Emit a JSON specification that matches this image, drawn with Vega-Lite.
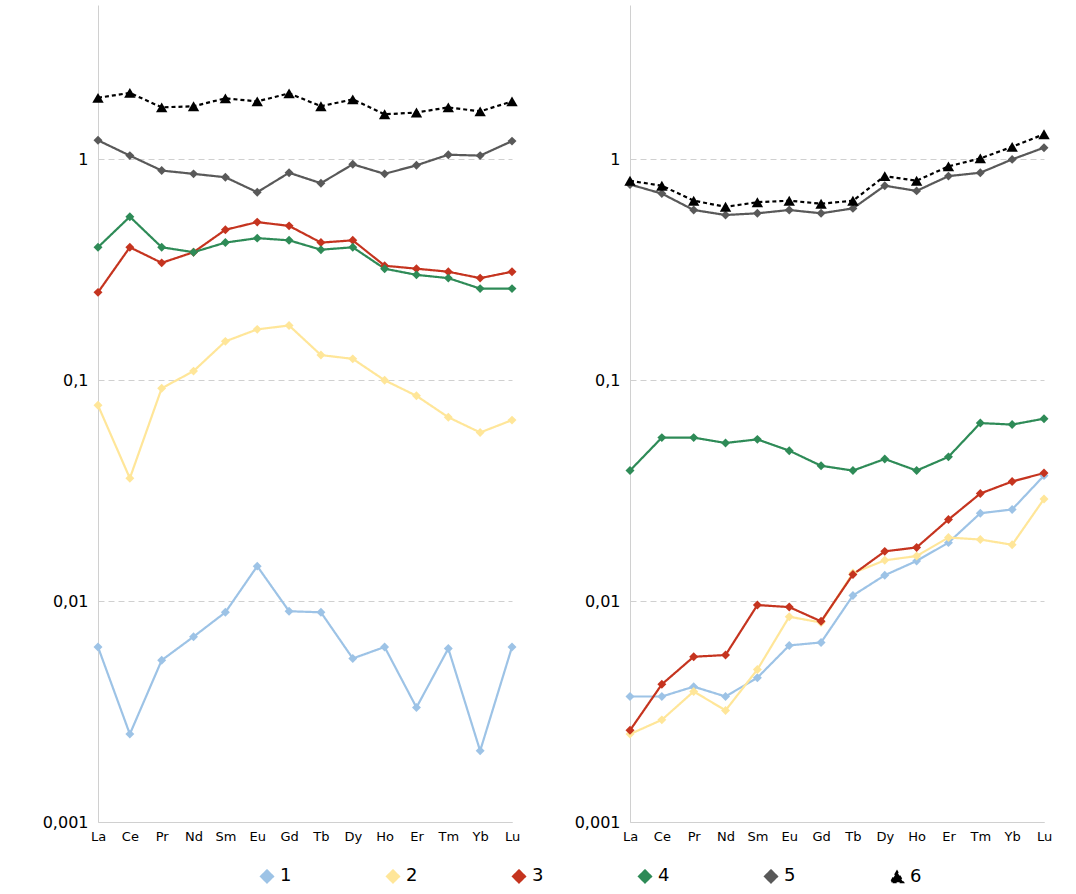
{
  "$schema": "https://vega.github.io/schema/vega-lite/v6.json",
  "padding": {"left": 42, "top": 5, "right": 5, "bottom": 5},
  "config": {
    "font": "DejaVu Sans",
    "view": {"stroke": null},
    "axis": {"labelFont": "DejaVu Sans", "labelColor": "#000", "domainColor": "#d0d0d0", "tickColor": "#d0d0d0"}
  },
  "data": {
    "values": [
      {"p": "A", "el": "La", "1": 0.0062, "2": 0.077, "3": 0.25, "4": 0.40, "5": 1.22, "6": 1.9},
      {"p": "A", "el": "Ce", "1": 0.0025, "2": 0.036, "3": 0.40, "4": 0.55, "5": 1.04, "6": 2.0},
      {"p": "A", "el": "Pr", "1": 0.0054, "2": 0.092, "3": 0.34, "4": 0.40, "5": 0.89, "6": 1.72},
      {"p": "A", "el": "Nd", "1": 0.0069, "2": 0.11, "3": 0.38, "4": 0.38, "5": 0.86, "6": 1.74},
      {"p": "A", "el": "Sm", "1": 0.0089, "2": 0.15, "3": 0.48, "4": 0.42, "5": 0.83, "6": 1.89},
      {"p": "A", "el": "Eu", "1": 0.0144, "2": 0.17, "3": 0.52, "4": 0.44, "5": 0.71, "6": 1.83},
      {"p": "A", "el": "Gd", "1": 0.0090, "2": 0.177, "3": 0.50, "4": 0.43, "5": 0.87, "6": 1.99},
      {"p": "A", "el": "Tb", "1": 0.0089, "2": 0.13, "3": 0.42, "4": 0.39, "5": 0.78, "6": 1.74},
      {"p": "A", "el": "Dy", "1": 0.0055, "2": 0.125, "3": 0.43, "4": 0.40, "5": 0.95, "6": 1.87},
      {"p": "A", "el": "Ho", "1": 0.0062, "2": 0.10, "3": 0.33, "4": 0.32, "5": 0.86, "6": 1.6},
      {"p": "A", "el": "Er", "1": 0.0033, "2": 0.085, "3": 0.32, "4": 0.30, "5": 0.94, "6": 1.63},
      {"p": "A", "el": "Tm", "1": 0.0061, "2": 0.068, "3": 0.31, "4": 0.29, "5": 1.05, "6": 1.72},
      {"p": "A", "el": "Yb", "1": 0.0021, "2": 0.058, "3": 0.29, "4": 0.26, "5": 1.04, "6": 1.65},
      {"p": "A", "el": "Lu", "1": 0.0062, "2": 0.066, "3": 0.31, "4": 0.26, "5": 1.21, "6": 1.83},
      {"p": "B", "el": "La", "1": 0.0037, "2": 0.0025, "3": 0.0026, "4": 0.039, "5": 0.77, "6": 0.80},
      {"p": "B", "el": "Ce", "1": 0.0037, "2": 0.0029, "3": 0.0042, "4": 0.055, "5": 0.70, "6": 0.76},
      {"p": "B", "el": "Pr", "1": 0.0041, "2": 0.0039, "3": 0.0056, "4": 0.055, "5": 0.59, "6": 0.65},
      {"p": "B", "el": "Nd", "1": 0.0037, "2": 0.0032, "3": 0.0057, "4": 0.052, "5": 0.56, "6": 0.61},
      {"p": "B", "el": "Sm", "1": 0.0045, "2": 0.0049, "3": 0.0096, "4": 0.054, "5": 0.57, "6": 0.64},
      {"p": "B", "el": "Eu", "1": 0.0063, "2": 0.0085, "3": 0.0094, "4": 0.048, "5": 0.59, "6": 0.65},
      {"p": "B", "el": "Gd", "1": 0.0065, "2": 0.0080, "3": 0.0081, "4": 0.041, "5": 0.57, "6": 0.63},
      {"p": "B", "el": "Tb", "1": 0.0106, "2": 0.0134, "3": 0.0132, "4": 0.039, "5": 0.60, "6": 0.65},
      {"p": "B", "el": "Dy", "1": 0.0131, "2": 0.0153, "3": 0.0168, "4": 0.044, "5": 0.76, "6": 0.84},
      {"p": "B", "el": "Ho", "1": 0.0152, "2": 0.0160, "3": 0.0175, "4": 0.039, "5": 0.72, "6": 0.80},
      {"p": "B", "el": "Er", "1": 0.0184, "2": 0.0194, "3": 0.0234, "4": 0.045, "5": 0.84, "6": 0.93},
      {"p": "B", "el": "Tm", "1": 0.025, "2": 0.019, "3": 0.0307, "4": 0.064, "5": 0.87, "6": 1.01},
      {"p": "B", "el": "Yb", "1": 0.026, "2": 0.018, "3": 0.0348, "4": 0.063, "5": 1.0, "6": 1.14},
      {"p": "B", "el": "Lu", "1": 0.037, "2": 0.029, "3": 0.038, "4": 0.067, "5": 1.13, "6": 1.3}
    ]
  },
  "transform": [
    {"fold": ["1", "2", "3", "4", "5", "6"], "as": ["s", "v"]}
  ],
  "facet": {"column": {"field": "p", "type": "nominal", "header": {"title": null, "labels": false}}},
  "spacing": 54,
  "resolve": {"axis": {"y": "independent", "x": "independent"}},
  "spec": {
    "width": 414,
    "height": 817,
    "encoding": {
      "x": {"field": "el", "type": "ordinal", "sort": null, "title": null,
        "scale": {"type": "point", "padding": 0},
        "axis": {"labelAngle": 0, "labelFontSize": 13, "ticks": false, "grid": false, "labelPadding": 8}},
      "y": {"field": "v", "type": "quantitative", "title": null,
        "scale": {"type": "log", "domain": [0.001, 5], "nice": false},
        "axis": {"values": [0.001, 0.01, 0.1, 1], "labelFontSize": 16, "ticks": false, "labelPadding": 10,
          "gridDash": [6, 4], "gridColor": "#d0d0d0",
          "labelExpr": "replace(format(datum.value, '~g'), '.', ',')"}},
      "color": {"field": "s", "type": "nominal", "title": null,
        "scale": {"domain": ["1", "2", "3", "4", "5", "6"],
          "range": ["#9DC3E6", "#FFE699", "#C5341F", "#2E8B57", "#595959", "#000000"]},
        "legend": {"orient": "none", "legendX": 160, "legendY": 862, "direction": "horizontal", "labelFontSize": 18, "symbolSize": 150, "columnPadding": 90, "symbolStrokeWidth": 2}}
    },
    "layer": [
      {"mark": {"type": "line", "strokeWidth": 2.2},
        "encoding": {"strokeDash": {"field": "s", "type": "nominal", "legend": null,
          "scale": {"domain": ["1", "2", "3", "4", "5", "6"], "range": [[1, 0], [1, 0], [1, 0], [1, 0], [1, 0], [4, 3]]}}}},
      {"mark": {"type": "point", "filled": true, "opacity": 1},
        "encoding": {
          "shape": {"field": "s", "type": "nominal", "legend": null,
            "scale": {"domain": ["1", "2", "3", "4", "5", "6"], "range": ["diamond", "diamond", "diamond", "diamond", "diamond", "triangle-up"]}},
          "size": {"condition": {"test": "datum.s == '6'", "value": 130}, "value": 80}}}
    ]
  }
}
